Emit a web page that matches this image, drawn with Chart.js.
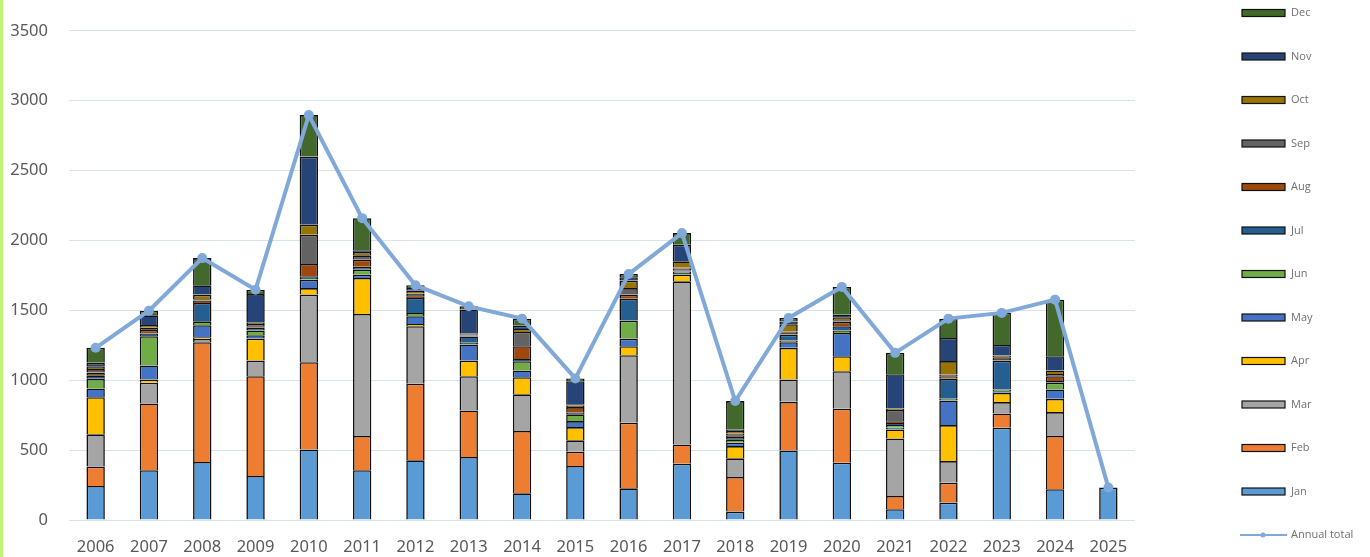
<!DOCTYPE html>
<html>
<head>
<meta charset="utf-8">
<script src="https://cdn.jsdelivr.net/npm/chart.js@4/dist/chart.umd.min.js"></script>
<style>
  html, body { margin: 0; padding: 0; background: #fff; }
  #wrap { position: relative; width: 1370px; height: 557px; }
  #edge { position: absolute; left: 0; top: 0; width: 3px; height: 557px; background: #bdf472; }
</style>
</head>
<body>
<div id="wrap">
  <canvas id="chart" width="1370" height="557"></canvas>
  <div id="edge"></div>
</div>
<script>
const years = ['2006','2007','2008','2009','2010','2011','2012','2013','2014','2015',
               '2016','2017','2018','2019','2020','2021','2022','2023','2024','2025'];

const jan = [244,356,415,315,505,356,427,451,191,387,227,403,60,498,410,77,125,660,220,232];
const feb = [138,478,857,714,624,245,548,333,446,102,469,138,248,348,386,95,142,103,381,0];
const mar = [231,148,24,112,484,874,412,245,262,81,483,1167,133,160,269,412,155,81,171,0];
const apr = [266,24,12,157,47,257,16,112,123,95,65,48,88,226,107,64,257,66,95,0];
const may = [62,100,86,24,60,24,55,115,48,43,54,12,24,40,167,12,177,12,67,0];
const jun = [69,209,28,34,12,35,24,12,66,48,129,10,24,12,17,20,12,12,48,0];
const jul = [25,20,131,19,12,22,107,45,17,12,157,10,17,43,31,15,142,207,12,0];
const aug = [20,25,17,12,88,50,12,8,91,40,29,10,12,12,31,12,19,12,35,0];
const sep = [25,15,10,15,209,31,20,8,102,10,47,8,12,10,12,81,12,12,15,0];
const oct = [20,20,33,10,72,24,20,8,20,10,53,45,18,52,21,10,96,12,26,0];
const nov = [25,70,66,205,488,12,20,170,24,165,25,119,10,20,17,245,166,76,102,0];
const dec = [107,33,195,31,297,230,19,22,51,20,22,83,205,25,200,153,138,229,405,0];

const annualTotal = [1232,1498,1874,1648,2898,2160,1680,1529,1441,1013,
                     1760,2053,851,1446,1668,1196,1441,1482,1577,232];

const monthNames = ['Jan','Feb','Mar','Apr','May','Jun','Jul','Aug','Sep','Oct','Nov','Dec'];
const monthData = [jan, feb, mar, apr, may, jun, jul, aug, sep, oct, nov, dec];
const monthColors = ['#5b9bd5','#ed7d31','#a5a5a5','#ffc000','#4472c4','#70ad47',
                     '#255e91','#9e480e','#636363','#997300','#264478','#43682b'];
const lineColor = '#80a9d9';

const datasets = monthNames.map((m, i) => ({
  type: 'bar',
  label: m,
  data: monthData[i],
  backgroundColor: monthColors[i],
  borderColor: '#111',
  borderWidth: 1.6,
  stack: 'months',
  order: 1,
  barPercentage: 0.345,
  categoryPercentage: 1
}));

datasets.push({
  type: 'line',
  label: 'Annual total',
  data: annualTotal,
  borderColor: lineColor,
  backgroundColor: lineColor,
  borderWidth: 4,
  pointRadius: 5,
  pointBorderWidth: 0,
  stack: 'total',
  order: 0,
  tension: 0
});

// legend drawn by hand, the library one wraps into two columns here
const sideLegend = {
  id: 'sideLegend',
  afterDraw(chart) {
    const ctx = chart.ctx;
    const items = chart.data.datasets.slice(0, 12).reverse().concat([chart.data.datasets[12]]);
    ctx.save();
    ctx.font = '11px "Open Sans"';
    ctx.textBaseline = 'middle';
    items.forEach((ds, k) => {
      const y = 13 + k * 43.5;
      if (ds.type === 'line') {
        ctx.strokeStyle = ds.borderColor;
        ctx.lineWidth = 2;
        ctx.beginPath();
        ctx.moveTo(1240, y);
        ctx.lineTo(1287, y);
        ctx.stroke();
        ctx.fillStyle = ds.borderColor;
        ctx.beginPath();
        ctx.arc(1263, y, 2.5, 0, Math.PI * 2);
        ctx.fill();
      } else {
        ctx.fillStyle = ds.backgroundColor;
        ctx.fillRect(1242, y - 3.5, 43, 7);
        ctx.strokeStyle = '#111';
        ctx.lineWidth = 1.2;
        ctx.strokeRect(1242, y - 3.5, 43, 7);
      }
      ctx.fillStyle = '#707070';
      ctx.fillText(ds.label, 1291, y);
    });
    ctx.restore();
  }
};

new Chart(document.getElementById('chart'), {
  data: { labels: years, datasets: datasets },
  plugins: [sideLegend],
  options: {
    responsive: false,
    animation: false,
    layout: { padding: { left: 0, right: 235, top: 28, bottom: 0 } },
    plugins: {
      legend: { display: false },
      tooltip: { enabled: false }
    },
    scales: {
      x: {
        stacked: true,
        grid: { display: false },
        border: { display: false },
        ticks: { color: '#595959', font: { family: 'Noto Sans', size: 16.5 }, padding: 9 },
        afterFit(scale) { scale.height = 37; }
      },
      y: {
        stacked: true,
        min: 0,
        max: 3500,
        grid: { color: '#d8e2eb', lineWidth: 1, drawTicks: false },
        border: { display: false },
        ticks: {
          stepSize: 500,
          color: '#595959',
          font: { family: 'Noto Sans', size: 16.5 },
          padding: 21,
          callback: (v) => String(v)
        },
        afterFit(scale) { scale.width = 69; }
      }
    }
  }
});
</script>
</body>
</html>
